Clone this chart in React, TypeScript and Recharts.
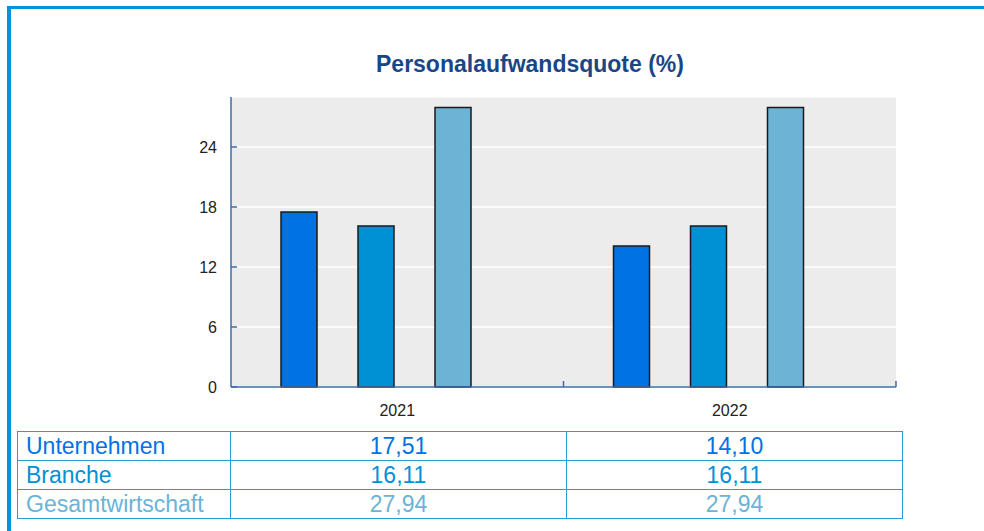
import React from 'react';
import { BarChart, Bar, XAxis, YAxis, CartesianGrid } from 'recharts';

const years = ['2021', '2022'];
const unternehmen = [17.51, 14.1];
const branche = [16.11, 16.11];
const gesamtwirtschaft = [27.94, 27.94];
const yTicks = [0, 6, 12, 18, 24];

const SERIES = [
  { key: 'unternehmen', name: 'Unternehmen', values: unternehmen, color: '#0072e3' },
  { key: 'branche', name: 'Branche', values: branche, color: '#0091d4' },
  { key: 'gesamt', name: 'Gesamtwirtschaft', values: gesamtwirtschaft, color: '#6cb3d5' },
];

const data = years.map((year, i) => ({
  year,
  unternehmen: unternehmen[i],
  branche: branche[i],
  gesamt: gesamtwirtschaft[i],
  leer: null,
}));

const FONT = '"Liberation Sans", Arial, Helvetica, sans-serif';
const AXIS_COLOR = '#3d6ea8';
const FRAME_COLOR = '#0096d6';
const X_TICK_MARGIN = 18;
const Y_TICK_MARGIN = 14;

const fmt = (v: number) => v.toFixed(2).replace('.', ',');

function YTick(props: any) {
  const { x, y, payload } = props;
  return (
    <g>
      <line x1={x + Y_TICK_MARGIN} x2={x + Y_TICK_MARGIN + 6} y1={y} y2={y} stroke={AXIS_COLOR} strokeWidth={1.5} />
      <text x={x} y={y} dy="0.355em" textAnchor="end" fill="#222" fontSize={16} fontFamily={FONT}>
        {payload.value}
      </text>
    </g>
  );
}

function XTick(props: any) {
  const { x, y, payload } = props;
  const axisY = y - X_TICK_MARGIN;
  const half = payload.offset || 0;
  return (
    <g>
      <line x1={x + half} x2={x + half} y1={axisY} y2={axisY - 6} stroke={AXIS_COLOR} strokeWidth={1.5} />
      <text x={x} y={y} dy="0.71em" textAnchor="middle" fill="#222" fontSize={16} fontFamily={FONT}>
        {payload.value}
      </text>
    </g>
  );
}

export default function App() {
  const cell: React.CSSProperties = {
    border: '1px solid #2b9bd8',
    height: 28,
    padding: 0,
    lineHeight: '28px',
    fontSize: 23,
    fontFamily: FONT,
  };

  return (
    <div style={{ position: 'absolute', left: 0, top: 0, width: 984, height: 531, background: '#fff', overflow: 'hidden' }}>
      <div
        style={{
          position: 'absolute',
          left: 7,
          top: 6,
          width: 990,
          height: 540,
          borderTop: `3px solid ${FRAME_COLOR}`,
          borderLeft: `4px solid ${FRAME_COLOR}`,
        }}
      />
      <div
        style={{
          position: 'absolute',
          left: 230,
          top: 51,
          width: 600,
          textAlign: 'center',
          fontFamily: FONT,
          fontWeight: 'bold',
          fontSize: 23,
          color: '#1b4686',
        }}
      >
        Personalaufwandsquote (%)
      </div>
      <div style={{ position: 'absolute', left: 0, top: 0 }}>
        <BarChart
          width={984}
          height={430}
          data={data}
          margin={{ top: 97, right: 88, bottom: 13, left: 171 }}
          barGap={41}
        >
          <CartesianGrid horizontal vertical={false} stroke="#ffffff" strokeWidth={1.5} fill="#ececec" />
          <XAxis
            dataKey="year"
            height={30}
            tickSize={0}
            tickMargin={X_TICK_MARGIN}
            axisLine={{ stroke: AXIS_COLOR, strokeWidth: 1.5 }}
            tick={<XTick />}
          />
          <YAxis
            width={60}
            domain={[0, 29]}
            ticks={yTicks}
            tickSize={0}
            tickMargin={Y_TICK_MARGIN}
            axisLine={{ stroke: AXIS_COLOR, strokeWidth: 1.5 }}
            tick={<YTick />}
          />
          {SERIES.map((s) => (
            <Bar
              key={s.key}
              dataKey={s.key}
              name={s.name}
              fill={s.color}
              stroke="#1a1a1a"
              strokeWidth={1.5}
              barSize={36}
              isAnimationActive={false}
            />
          ))}
          <Bar dataKey="leer" fill="none" barSize={1} isAnimationActive={false} />
        </BarChart>
      </div>
      <table
        style={{
          position: 'absolute',
          left: 17,
          top: 431,
          width: 885,
          borderCollapse: 'collapse',
          tableLayout: 'fixed',
        }}
      >
        <colgroup>
          <col style={{ width: 213 }} />
          <col style={{ width: 336 }} />
          <col style={{ width: 336 }} />
        </colgroup>
        <tbody>
          {SERIES.map((s) => (
            <tr key={s.key}>
              <td style={{ ...cell, color: s.color, paddingLeft: 8, textAlign: 'left' }}>{s.name}</td>
              {s.values.map((v, i) => (
                <td key={years[i]} style={{ ...cell, color: s.color, textAlign: 'center' }}>
                  {fmt(v)}
                </td>
              ))}
            </tr>
          ))}
        </tbody>
      </table>
    </div>
  );
}
